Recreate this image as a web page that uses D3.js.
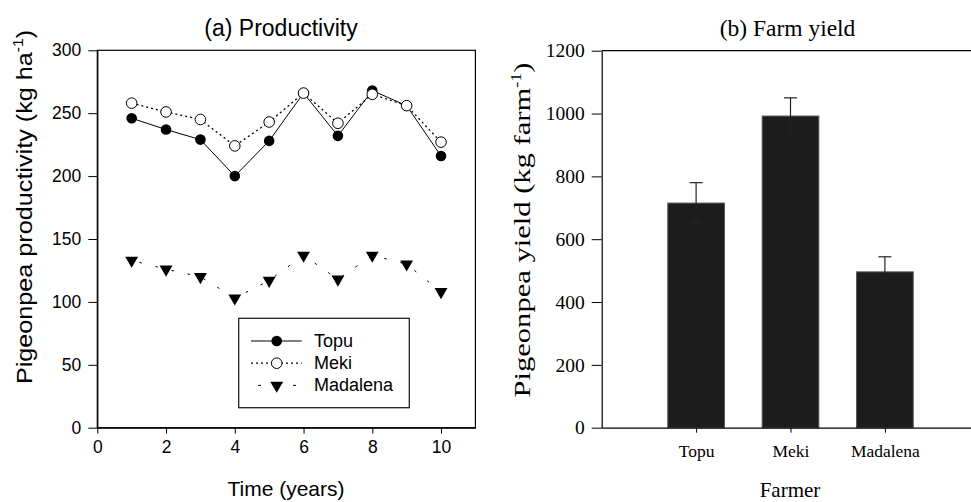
<!DOCTYPE html>
<html><head><meta charset="utf-8">
<script src="https://cdn.jsdelivr.net/npm/d3@7"></script>
<style>body{margin:0;background:#fff}svg{display:block}</style>
</head><body>
<svg id="c" width="971" height="502"></svg>
<script>
// ---- data ----
const years = [1,2,3,4,5,6,7,8,9,10];
const topu = [246,237,229,200,228,266,232,268,256,216];
const meki = [258,251,245,224,243,266,242,265,256,227];
const madalena = [133,126,120,103,117,137,118,137,130,108];
const xTicksA = [0,2,4,6,8,10];
const yTicksA = [0,50,100,150,200,250,300];

const farmers = ["Topu","Meki","Madalena"];
const farmYield = [715,992,496];
const farmErr = [65,58,48];
const yTicksB = [0,200,400,600,800,1000,1200];

const svg = d3.select("#c");
const sans = "'Liberation Sans', Arial, sans-serif";
const serif = "'Liberation Serif', 'Times New Roman', serif";

// ---- panel a ----
const xA = d3.scaleLinear().domain([0,11]).range([97.3,475.4]);
const yA = d3.scaleLinear().domain([0,300]).range([427.7,50.3]);
const gA = svg.append("g");

gA.append("rect").attr("x",xA(0)).attr("y",yA(300)).attr("width",xA(11)-xA(0)).attr("height",yA(0)-yA(300))
  .attr("fill","none").attr("stroke","#000").attr("stroke-width",1.2);

const axA = gA.append("g").attr("transform",`translate(0,${yA(0)})`)
  .call(d3.axisBottom(xA).tickValues(xTicksA).tickSize(6).tickPadding(7).tickSizeOuter(0));
const ayA = gA.append("g").attr("transform",`translate(${xA(0)},0)`)
  .call(d3.axisLeft(yA).tickValues(yTicksA).tickSize(9).tickPadding(7).tickSizeOuter(0));
[axA,ayA].forEach(a=>{
  a.select(".domain").attr("stroke","#000").attr("stroke-width",1.2);
  a.selectAll(".tick line").attr("stroke","#000").attr("stroke-width",1);
  a.selectAll(".tick text").attr("font-family",sans).attr("font-size",17.5).attr("fill","#000");
});

const lineA = d3.line().x((d,i)=>xA(years[i])).y(d=>yA(d));
gA.append("path").datum(madalena).attr("d",lineA).attr("fill","none").attr("stroke","#000")
  .attr("stroke-width",1).attr("stroke-dasharray","2.5,14").attr("stroke-dashoffset",-8);
gA.append("path").datum(meki).attr("d",lineA).attr("fill","none").attr("stroke","#000")
  .attr("stroke-width",1.3).attr("stroke-dasharray","2,3");
gA.append("path").datum(topu).attr("d",lineA).attr("fill","none").attr("stroke","#000").attr("stroke-width",1);

const tri = d3.symbol().type(d3.symbolTriangle).size(72);
gA.selectAll(".mad").data(madalena).join("path").attr("class","mad")
  .attr("d",tri).attr("transform",(d,i)=>`translate(${xA(years[i])},${yA(d)}) rotate(180)`).attr("fill","#000");
gA.selectAll(".tp").data(topu).join("circle").attr("class","tp")
  .attr("cx",(d,i)=>xA(years[i])).attr("cy",d=>yA(d)).attr("r",5.3).attr("fill","#000");
gA.selectAll(".mk").data(meki).join("circle").attr("class","mk")
  .attr("cx",(d,i)=>xA(years[i])).attr("cy",d=>yA(d)).attr("r",5.3).attr("fill","#fff").attr("stroke","#000").attr("stroke-width",1);

// legend
const lg = gA.append("g");
lg.append("rect").attr("x",238.7).attr("y",318.3).attr("width",170.6).attr("height",89.4)
  .attr("fill","#fff").attr("stroke","#222").attr("stroke-width",1.3);
const legItems = [{name:"Topu",dash:null,mk:"fc"},{name:"Meki",dash:"2,3",mk:"oc"},{name:"Madalena",dash:"2.5,14",mk:"tri"}];
legItems.forEach((it,i)=>{
  const y = 341 + i*22.2;
  if(it.mk==="tri"){
    lg.append("line").attr("x1",258).attr("x2",261).attr("y1",y).attr("y2",y).attr("stroke","#000");
    lg.append("line").attr("x1",293).attr("x2",296).attr("y1",y).attr("y2",y).attr("stroke","#000");
  } else {
    lg.append("line").attr("x1",251).attr("x2",301.7).attr("y1",y).attr("y2",y).attr("stroke","#000")
      .attr("stroke-width",it.dash?1.3:1).attr("stroke-dasharray",it.dash);
  }
  if(it.mk==="fc") lg.append("circle").attr("cx",276.7).attr("cy",y).attr("r",5.3).attr("fill","#000");
  if(it.mk==="oc") lg.append("circle").attr("cx",276.7).attr("cy",y).attr("r",5.3).attr("fill","#fff").attr("stroke","#000");
  if(it.mk==="tri") lg.append("path").attr("d",tri).attr("transform",`translate(276.7,${y}) rotate(180)`).attr("fill","#000");
  lg.append("text").attr("x",314).attr("y",y+6).attr("font-family",sans).attr("font-size",18).text(it.name);
});

gA.append("text").attr("x",281).attr("y",36).attr("text-anchor","middle").attr("font-family",sans).attr("font-size",23).text("(a) Productivity");
gA.append("text").attr("x",286).attr("y",496).attr("text-anchor","middle").attr("font-family",sans).attr("font-size",21).text("Time (years)");
const ylA = gA.append("text").attr("transform","translate(32,207) rotate(-90) scale(1.12,1)")
  .attr("text-anchor","middle").attr("font-family",sans).attr("font-size",22.5);
ylA.append("tspan").text("Pigeonpea productivity (kg ha");
ylA.append("tspan").attr("dy",-9).attr("font-size",14).text("-1");
ylA.append("tspan").attr("dy",9).text(")");

// ---- panel b ----
const xB = d3.scaleLinear().domain([0,4]).range([601.7,979.3]);
const yB = d3.scaleLinear().domain([0,1200]).range([427.7,50.7]);
const gB = svg.append("g");
gB.append("line").attr("x1",xB(0)).attr("x2",xB(4)).attr("y1",yB(1200)).attr("y2",yB(1200)).attr("stroke","#000").attr("stroke-width",1.2);

const bw = 0.6;
gB.selectAll(".bar").data(farmYield).join("rect").attr("class","bar")
  .attr("x",(d,i)=>xB(i+1-bw/2)).attr("width",xB(bw)-xB(0))
  .attr("y",d=>yB(d)).attr("height",d=>yB(0)-yB(d))
  .attr("fill","#1c1c1c").attr("stroke","#555").attr("stroke-width",1);
const eb = gB.selectAll(".eb").data(farmYield).join("g").attr("class","eb");
eb.append("line").attr("x1",(d,i)=>xB(i+1)).attr("x2",(d,i)=>xB(i+1))
  .attr("y1",(d,i)=>yB(d-farmErr[i])).attr("y2",(d,i)=>yB(d+farmErr[i])).attr("stroke","#222").attr("stroke-width",1.2);
eb.append("line").attr("x1",(d,i)=>xB(i+1)-6.5).attr("x2",(d,i)=>xB(i+1)+6.5)
  .attr("y1",(d,i)=>yB(d+farmErr[i])).attr("y2",(d,i)=>yB(d+farmErr[i])).attr("stroke","#222").attr("stroke-width",1.2);
eb.append("line").attr("x1",(d,i)=>xB(i+1)-6.5).attr("x2",(d,i)=>xB(i+1)+6.5)
  .attr("y1",(d,i)=>yB(d-farmErr[i])).attr("y2",(d,i)=>yB(d-farmErr[i])).attr("stroke","#222").attr("stroke-width",1.2);

const axB = gB.append("g").attr("transform",`translate(0,${yB(0)})`)
  .call(d3.axisBottom(xB).tickValues([1,2,3]).tickFormat((d)=>farmers[d-1]).tickSize(5).tickPadding(12).tickSizeOuter(0));
const ayB = gB.append("g").attr("transform",`translate(${xB(0)},0)`)
  .call(d3.axisLeft(yB).tickValues(yTicksB).tickFormat(d3.format("d")).tickSize(10).tickPadding(7).tickSizeOuter(0));
[axB,ayB].forEach(a=>{
  a.select(".domain").attr("stroke","#000").attr("stroke-width",1.2);
  a.selectAll(".tick line").attr("stroke","#000").attr("stroke-width",1);
  a.selectAll(".tick text").attr("font-family",serif).attr("fill","#000");
});
axB.selectAll(".tick text").attr("font-size",17.5);
ayB.selectAll(".tick text").attr("font-size",19.5);
gB.append("text").attr("x",787.5).attr("y",36).attr("text-anchor","middle").attr("font-family",serif).attr("font-size",23.5).text("(b) Farm yield");
gB.append("text").attr("x",790).attr("y",497).attr("text-anchor","middle").attr("font-family",serif).attr("font-size",21).text("Farmer");
const ylB = gB.append("text").attr("transform","translate(530,230) rotate(-90) scale(1.3,1)")
  .attr("text-anchor","middle").attr("font-family",serif).attr("font-size",23.5);
ylB.append("tspan").text("Pigeonpea yield (kg farm");
ylB.append("tspan").attr("dy",-9).attr("font-size",14).text("-1");
ylB.append("tspan").attr("dy",9).text(")");
</script>
</body></html>
